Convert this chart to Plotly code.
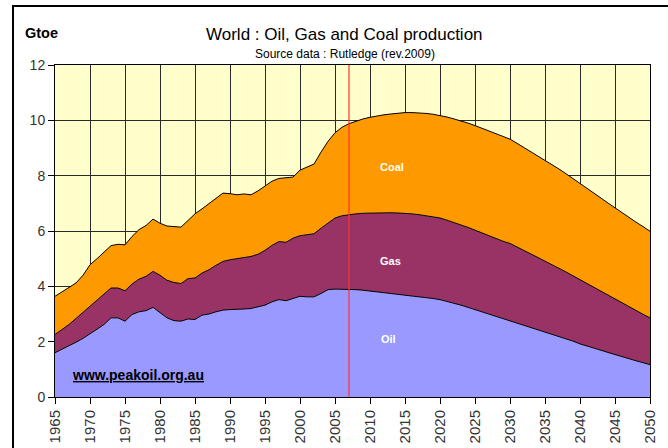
import plotly.graph_objects as go

years = list(range(1965, 2051))

# Stack boundaries (Gtoe)
oil_top = [1.60, 1.72, 1.84, 1.98, 2.12, 2.30, 2.45, 2.62, 2.86, 2.86,
           2.74, 2.98, 3.08, 3.12, 3.24, 3.05, 2.86, 2.76, 2.74, 2.82,
           2.80, 2.96, 3.00, 3.08, 3.14, 3.16, 3.16, 3.18, 3.20, 3.26,
           3.32, 3.44, 3.52, 3.48, 3.56, 3.64, 3.62, 3.62, 3.74, 3.88,
           3.90, 3.90, 3.88, 3.88, 3.86, 3.83, 3.81, 3.78, 3.76, 3.73,
           3.70, 3.67, 3.64, 3.60, 3.56, 3.52, 3.46, 3.39, 3.32, 3.24,
           3.16, 3.08, 3.00, 2.92, 2.84, 2.74, 2.67, 2.59, 2.51, 2.44,
           2.36, 2.28, 2.20, 2.12, 2.02, 1.92, 1.85, 1.77, 1.69, 1.61,
           1.53, 1.46, 1.39, 1.31, 1.24, 1.17]

oil_gas_top = [2.26, 2.44, 2.62, 2.84, 3.06, 3.28, 3.50, 3.72, 3.94, 3.94,
               3.84, 4.08, 4.26, 4.36, 4.54, 4.40, 4.22, 4.14, 4.10, 4.28,
               4.30, 4.48, 4.60, 4.76, 4.90, 4.96, 5.00, 5.04, 5.08, 5.16,
               5.30, 5.48, 5.62, 5.59, 5.74, 5.83, 5.86, 5.90, 6.10, 6.30,
               6.47, 6.55, 6.59, 6.62, 6.64, 6.65, 6.66, 6.66, 6.66, 6.65,
               6.64, 6.62, 6.59, 6.55, 6.51, 6.47, 6.39, 6.31, 6.22, 6.13,
               6.03, 5.93, 5.82, 5.71, 5.63, 5.55, 5.43, 5.30, 5.17, 5.04,
               4.91, 4.79, 4.66, 4.52, 4.38, 4.24, 4.10, 3.96, 3.81, 3.67,
               3.52, 3.39, 3.26, 3.12, 2.99, 2.86]

total_top = [3.64, 3.80, 3.94, 4.12, 4.40, 4.78, 5.00, 5.22, 5.47, 5.52,
             5.50, 5.80, 6.05, 6.20, 6.43, 6.28, 6.18, 6.16, 6.14, 6.38,
             6.62, 6.80, 7.00, 7.20, 7.37, 7.35, 7.31, 7.34, 7.31, 7.45,
             7.61, 7.80, 7.90, 7.93, 7.95, 8.20, 8.30, 8.42, 8.85, 9.24,
             9.55, 9.75, 9.88, 9.97, 10.05, 10.11, 10.16, 10.20, 10.23, 10.26,
             10.28, 10.28, 10.27, 10.25, 10.22, 10.18, 10.12, 10.05, 9.98, 9.90,
             9.81, 9.71, 9.62, 9.52, 9.43, 9.32, 9.17, 9.02, 8.87, 8.72,
             8.57, 8.41, 8.24, 8.07, 7.90, 7.73, 7.55, 7.37, 7.19, 7.01,
             6.83, 6.66, 6.49, 6.32, 6.16, 5.99]

x_ticks = list(range(1965, 2051, 5))
y_ticks = list(range(0, 13, 2))
marker_year = 2007

FONT = "Liberation Sans, Arial, sans-serif"

fig = go.Figure()
fig.add_trace(go.Scatter(x=years, y=oil_top, mode="lines", fill="tozeroy",
                         fillcolor="#9999FF", line=dict(color="#000000", width=1),
                         name="Oil", showlegend=False))
fig.add_trace(go.Scatter(x=years, y=oil_gas_top, mode="lines", fill="tonexty",
                         fillcolor="#993366", line=dict(color="#000000", width=1),
                         name="Gas", showlegend=False))
fig.add_trace(go.Scatter(x=years, y=total_top, mode="lines", fill="tonexty",
                         fillcolor="#FF9900", line=dict(color="#000000", width=1),
                         name="Coal", showlegend=False))

fig.add_shape(type="line", xref="x", yref="y", x0=marker_year, x1=marker_year,
              y0=0, y1=12, line=dict(color="#FF3333", width=1.2))

# outer frame
fig.add_shape(type="rect", xref="paper", yref="paper",
              x0=-0.0706, x1=1.2, y0=-0.3, y1=1.1774,
              line=dict(color="#000000", width=2), layer="below")

fig.add_annotation(xref="paper", yref="paper", x=-0.0538, y=1.096,
                   xanchor="left", yanchor="middle", showarrow=False,
                   text="<b>Gtoe</b>", font=dict(family=FONT, size=14.5, color="#000"))
fig.add_annotation(xref="paper", yref="paper", x=0.487, y=1.092,
                   xanchor="center", yanchor="middle", showarrow=False, borderpad=0,
                   text="World : Oil, Gas and Coal production",
                   font=dict(family=FONT, size=17, color="#000"))
fig.add_annotation(xref="paper", yref="paper", x=0.487, y=1.034,
                   xanchor="center", yanchor="middle", showarrow=False, borderpad=0,
                   text="Source data : Rutledge (rev.2009)",
                   font=dict(family=FONT, size=12, color="#000"))

for label, xv, yv in [("Coal", 2013.1, 8.3), ("Gas", 2012.9, 4.93), ("Oil", 2012.7, 2.11)]:
    fig.add_annotation(x=xv, y=yv, xref="x", yref="y", showarrow=False,
                       text="<b>" + label + "</b>",
                       font=dict(family=FONT, size=11, color="#FFFFFF"))

fig.add_annotation(xref="paper", yref="paper", x=0.026, y=0.0677,
                   xanchor="left", yanchor="middle", showarrow=False,
                   text="<b><u>www.peakoil.org.au</u></b>",
                   font=dict(family=FONT, size=14, color="#000"))

fig.update_layout(
    width=668, height=448,
    margin=dict(l=55, r=18, t=65, b=50.5, autoexpand=False),
    paper_bgcolor="#FFFFFF",
    plot_bgcolor="#FFFFCC",
    font=dict(family=FONT, color="#333333"),
)
fig.update_xaxes(range=[1965, 2050], tickvals=x_ticks, ticktext=[str(v) for v in x_ticks],
                 tickangle=-90, tickfont=dict(size=15, color="#333333"),
                 showgrid=True, gridcolor="#2a2a2a", gridwidth=1,
                 showline=True, linecolor="#000000", linewidth=1, mirror=True,
                 ticks="outside", ticklen=6, tickcolor="#000000", zeroline=False,
                 automargin=False)
fig.update_yaxes(range=[0, 12], tickvals=y_ticks, ticktext=[str(v) for v in y_ticks],
                 tickfont=dict(size=14, color="#333333"),
                 showgrid=True, gridcolor="#2a2a2a", gridwidth=1,
                 showline=True, linecolor="#000000", linewidth=1, mirror=True,
                 ticks="outside", ticklen=6, tickcolor="#000000", zeroline=False,
                 automargin=False)

fig.write_html("out.html", config={"displayModeBar": False},
               post_script="document.body.style.margin='0';")
